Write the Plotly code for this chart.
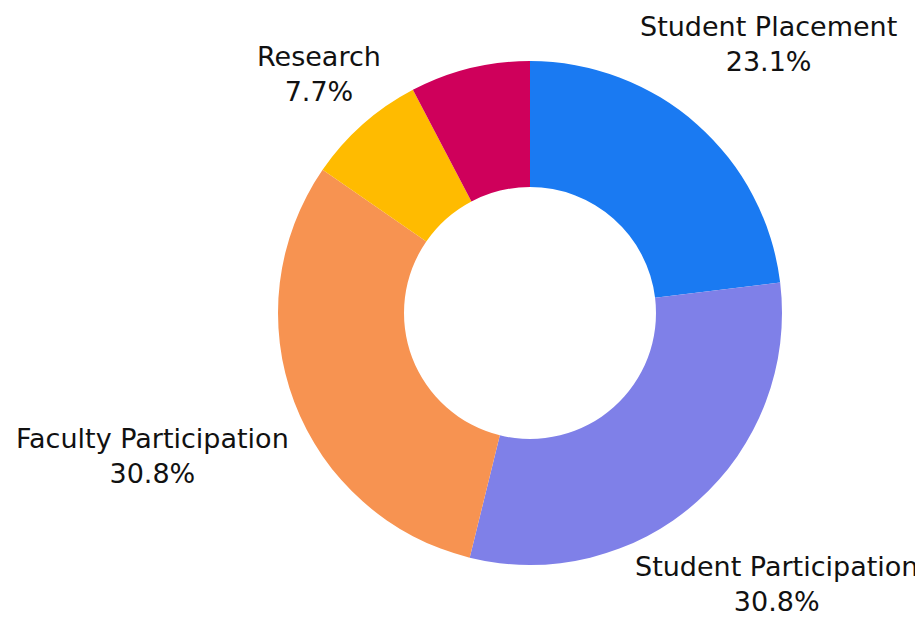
import math
import plotly.graph_objects as go

labels = ["Student Placement", "Student Participation", "Faculty Participation", "Research", ""]
values = [3, 4, 4, 1, 1]
colors = ["#1a7af2", "#7f80e8", "#f79351", "#ffbb00", "#cf005b"]

W, H = 923, 623
off = 8  # page body margin around the plot div
cx, cy, R = 530 - off, 313 - off, 252  # pie centre and radius in figure pixels

fig = go.Figure(go.Pie(
    labels=labels,
    values=values,
    hole=0.5,
    sort=False,
    direction="clockwise",
    marker=dict(colors=colors),
    textinfo="none",
    showlegend=False,
    domain=dict(x=[(cx - R) / W, (cx + R) / W],
                y=[(H - cy - R) / H, (H - cy + R) / H]),
))

# outside labels: box pushed out along the slice's middle ray until it clears the rim
total = sum(values)
cum = 0
for lab, v in zip(labels, values):
    mid = (cum + v / 2) / total * 2 * math.pi
    cum += v
    if not lab:
        continue
    pct = f"{v / total * 100:.1f}%"
    dx, dy = math.sin(mid), -math.cos(mid)
    w = max(len(lab), len(pct)) * 13.6
    h = 66
    d = R + 6 + abs(dx) * w / 2 + abs(dy) * h / 2
    px = min(cx + dx * d, W - off - w / 2 - 4)
    py = min(cy + dy * d, H - off - h / 2 - 6)
    fig.add_annotation(
        x=px / W, y=1 - py / H,
        xref="paper", yref="paper",
        text=f"{lab}<br>{pct}",
        showarrow=False,
        xanchor="center", yanchor="middle",
        font=dict(size=27, color="#111111"),
    )

fig.update_layout(
    width=W,
    height=H,
    margin=dict(l=0, r=0, t=0, b=0),
    paper_bgcolor="white",
    font=dict(family="DejaVu Sans"),
)

fig.write_html("out.html")
